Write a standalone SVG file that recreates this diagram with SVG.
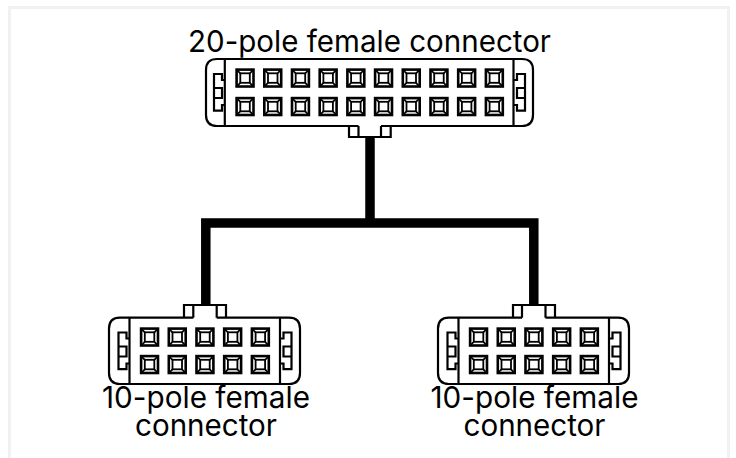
<svg xmlns="http://www.w3.org/2000/svg" width="736" height="458" viewBox="0 0 736 458">
<style>
.frame{fill:none;stroke:#f0f1f3;stroke-width:3}
.ln{fill:none;stroke:#000;stroke-width:2.2}
.wire{fill:none;stroke:#000;stroke-width:9.5;stroke-linejoin:miter}
.lbl{font-family:"Inter","Liberation Sans",sans-serif;font-size:30px;fill:#000;text-anchor:middle}
</style>
<defs>
<g id="pin">
<rect x="1.3" y="1.3" width="16.900" height="16.900" fill="none" stroke="#000" stroke-width="2.600"/>
<rect x="5" y="5" width="9.500" height="9.500" fill="none" stroke="#000" stroke-width="1.800"/>
<path d="M2 2L5 5M17.500 2L14.500 5M2 17.500L5 14.500M17.500 17.500L14.500 14.500" stroke="#000" stroke-width="1.700" fill="none"/>
</g>
<g id="row5">
<use href="#pin" x="0"/><use href="#pin" x="27.7"/><use href="#pin" x="55.4"/><use href="#pin" x="83.1"/><use href="#pin" x="110.8"/>
</g>
<g id="clip">
<path class="ln" d="M11 6H8V0H0V36.700H8V31H11M0 14H8V24H0"/>
</g>
</defs>
<rect width="736" height="458" fill="#fff"/>
<path class="frame" d="M9.500 458V7.500H728.500V458"/>
<g id="connectors">
<path class="wire" d="M370 137V223M205.800 305V223H533.800V305"/>
</g>
<g id="node-20">
<text class="lbl" x="369.500" y="52" textLength="363" lengthAdjust="spacingAndGlyphs">20-pole female connector</text>
<path class="ln" d="M358.500 126H217Q206 126 206 115V70Q206 59 217 59H522Q533 59 533 70V115Q533 126 522 126H381M358.500 126V137H349V126M349 137H390.700V126M381 126V137M224.800 59V126M513.500 59V126"/>
<use href="#clip" x="214" y="74"/>
<use href="#clip" transform="translate(525 74) scale(-1 1)"/>
<use href="#row5" x="235.300" y="68.300"/><use href="#row5" x="373.800" y="68.300"/>
<use href="#row5" x="235.300" y="96.800"/><use href="#row5" x="373.800" y="96.800"/>
</g>
<g id="node-10a">
<path class="ln" d="M193.300 317.700H120Q109 317.700 109 328.700V373Q109 384 120 384H289Q300 384 300 373V328.700Q300 317.700 289 317.700H216.700M184 317.700V305H226V317.700M193.300 305V317.700M216.700 305V317.700M129.500 317.700V384M280 317.700V384"/>
<use href="#clip" x="118.500" y="332.500"/>
<use href="#clip" transform="translate(291.500 332.500) scale(-1 1)"/>
<use href="#row5" x="139.800" y="327.300"/>
<use href="#row5" x="139.800" y="354.800"/>
<text class="lbl" x="206" y="408" textLength="208" lengthAdjust="spacingAndGlyphs">10-pole female</text>
<text class="lbl" x="206" y="436" textLength="142" lengthAdjust="spacingAndGlyphs">connector</text>
</g>
<g id="node-10b">
<path class="ln" d="M522 317.700H449Q438 317.700 438 328.700V373Q438 384 449 384H618Q629 384 629 373V328.700Q629 317.700 618 317.700H545.500M513 317.700V305H555V317.700M522 305V317.700M545.500 305V317.700M458.500 317.700V384M609 317.700V384"/>
<use href="#clip" x="447.500" y="332.500"/>
<use href="#clip" transform="translate(620.500 332.500) scale(-1 1)"/>
<use href="#row5" x="468.800" y="327.300"/>
<use href="#row5" x="468.800" y="354.800"/>
<text class="lbl" x="534.500" y="408" textLength="208" lengthAdjust="spacingAndGlyphs">10-pole female</text>
<text class="lbl" x="534.500" y="436" textLength="142" lengthAdjust="spacingAndGlyphs">connector</text>
</g>
</svg>
